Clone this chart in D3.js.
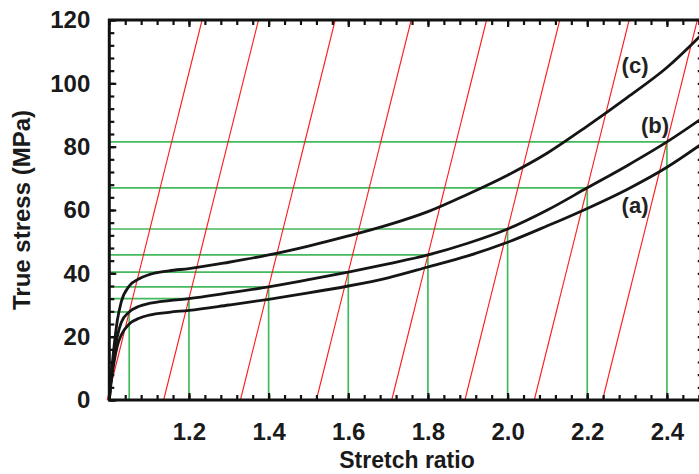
<!DOCTYPE html>
<html>
<head>
<meta charset="utf-8">
<script src="https://cdn.jsdelivr.net/npm/d3@7"></script>
<style>
  body { margin: 0; background: #fff; overflow: hidden; }
  svg { display: block; font-family: "Liberation Sans", Arial, sans-serif; }
</style>
</head>
<body>
<div id="chart"></div>
<script>
// stretch ratio values shared by the three curves
const stretch = [1.0, 1.005, 1.012, 1.02, 1.03, 1.05, 1.075, 1.1, 1.15, 1.2, 1.3, 1.4, 1.5, 1.6, 1.7, 1.8, 1.9, 2.0, 2.1, 2.2, 2.3, 2.4, 2.5];
const stressA = [0, 6, 12, 17, 20.5, 24, 25.8, 26.8, 27.7, 28.3, 30, 31.8, 33.8, 36, 38.6, 42, 45.5, 49.8, 55, 60.5, 66.5, 73.5, 82];
const stressB = [0, 7, 14, 20, 24.5, 27.8, 29.6, 30.5, 31.4, 32, 33.8, 35.7, 38, 40.4, 43, 45.8, 49.5, 54, 60, 67, 74, 81.5, 90];
const stressC = [0, 8, 17, 25, 31, 36, 38.3, 39.6, 40.8, 41.5, 43.5, 45.8, 48.6, 51.8, 55.3, 59.5, 65, 71, 78, 86.5, 95.5, 105, 117];
const curveNames = ["(a)", "(b)", "(c)"];
// label anchor points (stretch, stress)
const labelStretch = [2.32, 2.37, 2.32];
const labelStress = [61, 86, 105];

// construction points on curve (b) and the slope of the red lines (MPa per unit stretch)
const markStretch = [1.05, 1.2, 1.4, 1.6, 1.8, 2.0, 2.2, 2.4];
const markStress = [27.8, 32, 35.7, 40.4, 45.8, 54, 67, 81.5];
const redSlope = 504;

const xTicks = [1.2, 1.4, 1.6, 1.8, 2.0, 2.2, 2.4];
const yTicks = [0, 20, 40, 60, 80, 100, 120];

const width = 699;
const height = 474;
const plotLeft = 109.3, plotTop = 20, plotBottom = 400;

const x = d3.scaleLinear().domain([1.0, 2.49]).range([plotLeft, plotLeft + 398.3 * 1.49]);
const y = d3.scaleLinear().domain([0, 120]).range([plotBottom, plotTop]);
const plotRight = x(2.49);

const svg = d3.select("#chart")
  .append("svg")
  .attr("width", width)
  .attr("height", height);

const frameColor = "#111";
const green = "#45b95b";

// green construction lines
const marks = markStretch.map((s, i) => ({ s, v: markStress[i] }));
svg.append("g")
  .selectAll("line")
  .data(marks)
  .join("line")
  .attr("x1", x(1.0)).attr("x2", d => x(d.s))
  .attr("y1", d => y(d.v)).attr("y2", d => y(d.v))
  .attr("stroke", green).attr("stroke-width", 1.7);
svg.append("g")
  .selectAll("line")
  .data(marks)
  .join("line")
  .attr("x1", d => x(d.s)).attr("x2", d => x(d.s))
  .attr("y1", y(0)).attr("y2", d => y(d.v))
  .attr("stroke", green).attr("stroke-width", 1.7);

// red lines of fixed slope through each point
svg.append("g")
  .selectAll("line")
  .data(marks)
  .join("line")
  .attr("x1", d => x(d.s - d.v / redSlope))
  .attr("y1", y(0))
  .attr("x2", d => x(d.s + (120 - d.v) / redSlope))
  .attr("y2", y(120))
  .attr("stroke", "#ff1a1a").attr("stroke-width", 1.1);

// curves
const line = d3.line()
  .x((d, i) => x(stretch[i]))
  .y(d => y(d))
  .curve(d3.curveMonotoneX);

svg.append("defs").append("clipPath").attr("id", "plot-clip")
  .append("rect").attr("x", plotLeft).attr("y", plotTop)
  .attr("width", plotRight - plotLeft).attr("height", plotBottom - plotTop);

svg.append("g")
  .attr("clip-path", "url(#plot-clip)")
  .selectAll("path")
  .data([stressA, stressB, stressC])
  .join("path")
  .attr("d", line)
  .attr("fill", "none")
  .attr("stroke", "#151515")
  .attr("stroke-width", 2.8);

svg.append("g")
  .selectAll("text")
  .data(curveNames)
  .join("text")
  .attr("x", (d, i) => x(labelStretch[i]))
  .attr("y", (d, i) => y(labelStress[i]))
  .attr("text-anchor", "middle")
  .attr("dominant-baseline", "middle")
  .attr("font-size", 22)
  .attr("font-weight", "bold")
  .attr("fill", "#222")
  .text(d => d);

// axes: ticks point inwards on every side
const minorX = d3.range(1.0, 2.49, 0.04);
const minorY = d3.range(0, 121, 4);

function styleAxis(g) {
  g.select(".domain").remove();
  g.selectAll("line").attr("stroke", frameColor).attr("stroke-width", 2.2);
  g.selectAll("text")
    .attr("font-size", 24)
    .attr("font-weight", "bold")
    .attr("fill", "#1a1a1a")
    .attr("font-family", "'Liberation Sans', Arial, sans-serif");
}

svg.append("g").attr("transform", `translate(0,${plotBottom})`)
  .call(d3.axisBottom(x).tickValues(minorX).tickSize(-5).tickFormat(""))
  .call(styleAxis);
svg.append("g").attr("transform", `translate(0,${plotBottom})`)
  .call(d3.axisBottom(x).tickValues(xTicks).tickSize(-7).tickPadding(23).tickFormat(d3.format(".1f")))
  .call(styleAxis);
svg.append("g").attr("transform", `translate(0,${plotTop})`)
  .call(d3.axisTop(x).tickValues(minorX).tickSize(-5).tickFormat(""))
  .call(styleAxis);
svg.append("g").attr("transform", `translate(0,${plotTop})`)
  .call(d3.axisTop(x).tickValues(xTicks).tickSize(-7).tickFormat(""))
  .call(styleAxis);

svg.append("g").attr("transform", `translate(${plotLeft},0)`)
  .call(d3.axisLeft(y).tickValues(minorY).tickSize(-5).tickFormat(""))
  .call(styleAxis);
svg.append("g").attr("transform", `translate(${plotLeft},0)`)
  .call(d3.axisLeft(y).tickValues(yTicks).tickSize(-7).tickPadding(19))
  .call(styleAxis);
svg.append("g").attr("transform", `translate(${plotRight},0)`)
  .call(d3.axisRight(y).tickValues(minorY).tickSize(-5).tickFormat(""))
  .call(styleAxis);

// frame
svg.append("rect")
  .attr("x", plotLeft).attr("y", plotTop)
  .attr("width", plotRight - plotLeft).attr("height", plotBottom - plotTop)
  .attr("fill", "none")
  .attr("stroke", frameColor)
  .attr("stroke-width", 3);

// axis titles
svg.append("text")
  .attr("x", 407).attr("y", 468)
  .attr("text-anchor", "middle")
  .attr("font-size", 23)
  .attr("font-weight", "bold")
  .attr("fill", "#1a1a1a")
  .text("Stretch ratio");

svg.append("text")
  .attr("transform", "translate(30,210) rotate(-90)")
  .attr("text-anchor", "middle")
  .attr("font-size", 24)
  .attr("font-weight", "bold")
  .attr("fill", "#1a1a1a")
  .text("True stress (MPa)");
</script>
</body>
</html>
